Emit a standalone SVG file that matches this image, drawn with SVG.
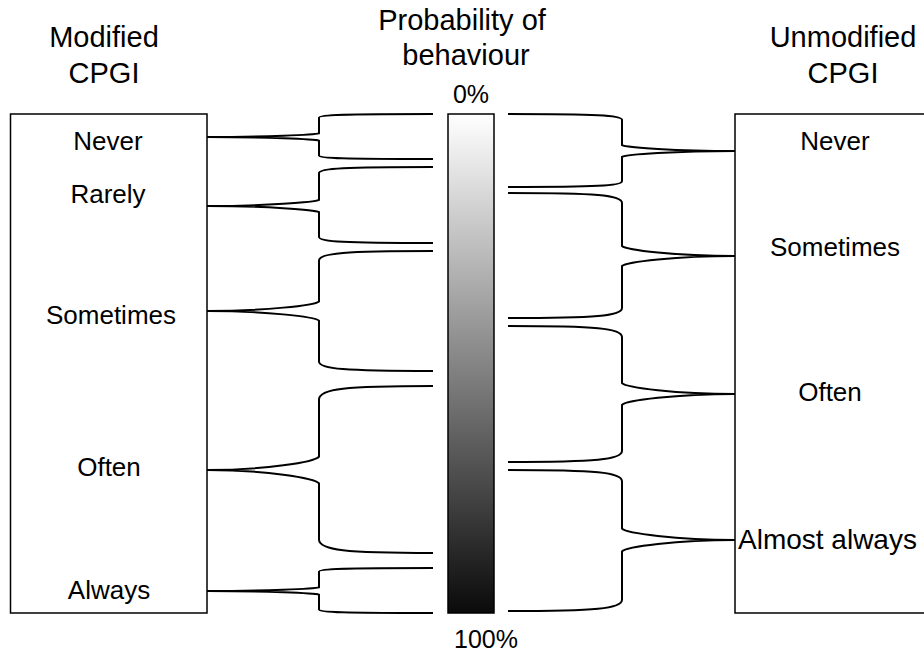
<svg xmlns="http://www.w3.org/2000/svg" width="924" height="652" viewBox="0 0 924 652">
<style>
text{font-family:"Liberation Sans",Arial,sans-serif;fill:#000;text-anchor:middle}
.title{font-size:29px}
.lbl{font-size:26px}
.pct{font-size:25px}
.box{fill:#fff;stroke:#000;stroke-width:1.5}
.brace{fill:none;stroke:#000;stroke-width:2}
</style>
<defs>
<linearGradient id="grad" x1="0" y1="0" x2="0" y2="1">
<stop offset="0" stop-color="#ffffff"/>
<stop offset="1" stop-color="#0a0a0a"/>
</linearGradient>
</defs>
<g id="title-left">
<text class="title" x="104" y="47">Modified</text>
<text class="title" x="104" y="83">CPGI</text>
</g>
<g id="title-center">
<text class="title" x="462" y="30">Probability of</text>
<text class="title" x="466" y="65">behaviour</text>
<text class="pct" x="471" y="103">0%</text>
<text class="pct" x="486" y="648">100%</text>
</g>
<g id="title-right">
<text class="title" x="843" y="47">Unmodified</text>
<text class="title" x="843" y="83">CPGI</text>
</g>
<g id="modified-box">
<rect class="box" x="10.5" y="114" width="196.5" height="499"/>
<text class="lbl" x="108" y="150">Never</text>
<text class="lbl" x="108" y="203">Rarely</text>
<text class="lbl" x="111" y="324">Sometimes</text>
<text class="lbl" x="109" y="476">Often</text>
<text class="lbl" x="109" y="599">Always</text>
</g>
<g id="probability-bar">
<rect x="448" y="114" width="46" height="499" fill="url(#grad)" stroke="#000" stroke-width="1.5"/>
</g>
<g id="unmodified-box">
<rect class="box" x="735" y="114" width="200" height="499"/>
<text class="lbl" x="835" y="150">Never</text>
<text class="lbl" x="835" y="256">Sometimes</text>
<text class="lbl" x="830" y="401">Often</text>
<text class="lbl" x="738" y="549" style="text-anchor:start;font-size:28px">Almost always</text>
</g>
<g id="connectors">
<path class="brace" d="M 433 114 C 345 114 319 114.7 319 117.6 L 319 133.4 C 315 134.8 265 137 207 137 C 265 137 315 139.2 319 140.6 L 319 155.4 C 319 158.3 345 159 433 159"/>
<path class="brace" d="M 433 167 C 345 167 319 168.2 319 173.1 L 319 199.9 C 315 202.3 265 206 207 206 C 265 206 315 209.7 319 212.1 L 319 236.9 C 319 241.8 345 243 433 243"/>
<path class="brace" d="M 433 251 C 345 251 319 252.9 319 260.6 L 319 301.4 C 315 305.2 265 311 207 311 C 265 311 315 316.8 319 320.6 L 319 361.4 C 319 369.1 345 371 433 371"/>
<path class="brace" d="M 433 386 C 345 386 319 388.7 319 399.4 L 319 456.6 C 315 462 265 470 207 470 C 265 470 315 478 319 483.4 L 319 539.6 C 319 550.3 345 553 433 553"/>
<path class="brace" d="M 433 568 C 345 568 319 568.7 319 571.6 L 319 587.4 C 315 588.8 265 591 207 591 C 265 591 315 593.2 319 594.6 L 319 609.4 C 319 612.3 345 613 433 613"/>
<path class="brace" d="M 508 114 C 596 114 622 115.2 622 119.8 L 622 145.2 C 626 147.5 676 151 735 151 C 676 151 626 154.5 622 156.8 L 622 181.2 C 622 185.8 596 187 508 187"/>
<path class="brace" d="M 508 193 C 596 193 622 195 622 203 L 622 246 C 626 250 676 256 735 256 C 676 256 626 262 622 266 L 622 308 C 622 316 596 318 508 318"/>
<path class="brace" d="M 508 326 C 596 326 622 328.2 622 336.9 L 622 383.1 C 626 387.5 676 394 735 394 C 676 394 626 400.5 622 404.9 L 622 451.1 C 622 459.8 596 462 508 462"/>
<path class="brace" d="M 508 470 C 596 470 622 472.3 622 481.3 L 622 528.7 C 626 533.2 676 540 735 540 C 676 540 626 546.8 622 551.3 L 622 599.7 C 622 608.7 596 611 508 611"/>
</g>
</svg>
